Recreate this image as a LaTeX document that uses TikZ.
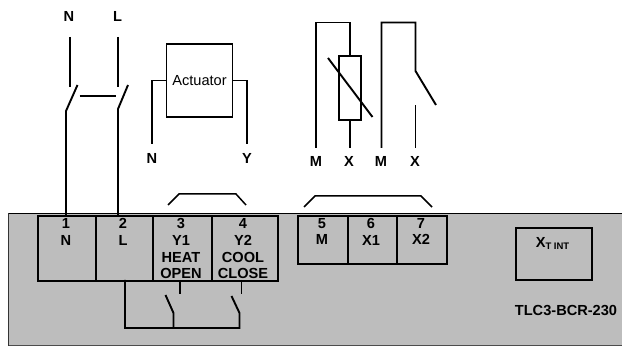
\documentclass[tikz,border=0pt]{standalone}
\usepackage{fontspec}
\setmainfont{Liberation Sans}
\definecolor{panelgray}{HTML}{BDBDBD}
\tikzset{
 wire/.style={line width=1.9pt,black,line join=miter},
 thin wire/.style={line width=1.5pt,black,line join=miter},
 lbl/.style={font=\fontsize{14.6}{16.7}\selectfont\bfseries,inner sep=0pt,align=center,text=black},
 term/.style={draw=black,line width=1.8pt,inner sep=0pt,anchor=north west},
 pt/.style={coordinate}
}
\begin{document}
\begin{tikzpicture}[x=1pt,y=-1pt]
\useasboundingbox (0,0) rectangle (622,347);
% panel
\fill[panelgray] (8.5,213.5) rectangle (622,346);
\draw[line width=1pt,black!70] (8.5,346) -- (622,346);
\draw[line width=1.4pt,black!80] (8.5,213.5) -- (8.5,346);
\draw[line width=1.7pt,black] (8.5,213.5) -- (622,213.5);
% terminals
\node[term,minimum width=58pt,minimum height=65pt] (b1) at (37,215) {};
\node[term,minimum width=57pt,minimum height=65pt] (b2) at (95,215) {};
\node[term,minimum width=59pt,minimum height=65pt] (b3) at (152,215) {};
\node[term,minimum width=66pt,minimum height=65pt] (b4) at (211,215) {};
\node[term,minimum width=50pt,minimum height=48pt] (b5) at (297,215) {};
\node[term,minimum width=49pt,minimum height=48pt] (b6) at (347,215) {};
\node[term,minimum width=50pt,minimum height=48pt] (b7) at (396,215) {};
\node[term,minimum width=76pt,minimum height=52pt] (bx) at (515,227) {};
% terminal text
\node[lbl,anchor=north] (t1) at (66,218.5) {1\\N};
\node[lbl,anchor=north] (t2) at (123,218.5) {2\\L};
\node[lbl,anchor=north] (t3) at (181,218.5) {3\\Y1\\HEAT\\OPEN};
\node[lbl,anchor=north] (t4) at (243,218.5) {4\\Y2\\COOL\\CLOSE};
\node[lbl,anchor=north] (t5) at (322,218) {5\\M};
\node[lbl,anchor=north] (t6) at (371,218) {6\\X1};
\node[lbl,anchor=north] (t7) at (421,218) {7\\X2};
\node[lbl] (tx) at (552.5,243.5) {X\raisebox{-2pt}{\fontsize{9.5}{9.5}\selectfont\bfseries T INT}};
\node[lbl] (tm) at (566,310) {TLC3-BCR-230};
% top labels
\node[lbl] (ln) at (69,16) {N};
\node[lbl] (ll) at (117.5,16) {L};
\node[lbl] (an) at (152,158) {N};
\node[lbl] (ay) at (247,158) {Y};
\node[lbl] (m1) at (316,161) {M};
\node[lbl] (x1) at (349,161) {X};
\node[lbl] (m2) at (381,161) {M};
\node[lbl] (x2) at (415,161) {X};
% mains switches
\coordinate (na) at (70,37); \coordinate (nb) at (70,87);
\coordinate (la) at (118,37); \coordinate (lb) at (118,87);
\coordinate (ns) at (77.5,85); \coordinate (nh) at (66,111);
\coordinate (ls) at (128,85); \coordinate (lh) at (118,109);
\coordinate (lk1) at (79.5,96); \coordinate (lk2) at (116,96);
\draw[wire] (na) -- (nb);
\draw[wire] (la) -- (lb);
\draw[wire] (ns) -- (nh) -- (nh |- b1.north);
\draw[wire] (ls) -- (lh) -- (lh |- b2.north);
\draw[thin wire] (lk1) -- (lk2);
% actuator
\node[draw=black,line width=1.9pt,minimum width=66pt,minimum height=73pt,inner sep=0pt,font=\fontsize{14.6}{16}\selectfont] (act) at (199.5,80.5) {Actuator};
\coordinate (ae1) at (152,144); \coordinate (ae2) at (247,144);
\draw[wire] (act.west) -- (act.west -| ae1) -- (ae1);
\draw[wire] (act.east) -- (act.east -| ae2) -- (ae2);
% thermistor
\node[draw=black,line width=1.9pt,minimum width=22pt,minimum height=64pt,inner sep=0pt] (rt) at (350,88) {};
\coordinate (r1) at (316,148); \coordinate (r2) at (316,22.5); \coordinate (r3) at (350,22.5); \coordinate (r4) at (350,148);
\draw[wire] (r1) -- (r2) -- (r3) -- (rt.north);
\draw[wire] (rt.south) -- (r4);
\coordinate (sl1) at (328,58); \coordinate (sl2) at (372.5,117);
\draw[wire] (sl1) -- (sl2);
% contact
\coordinate (c1) at (381.5,148); \coordinate (c2) at (381.5,22.5); \coordinate (c3) at (415.5,22.5); \coordinate (c4) at (415.5,71); \coordinate (c5) at (436,105);
\coordinate (c6) at (415.5,105.5); \coordinate (c7) at (415.5,148);
\draw[wire] (c1) -- (c2) -- (c3) -- (c4) -- (c5);
\draw[wire] (c6) -- (c7);
% jumpers
\coordinate (j1) at (168,205); \coordinate (j2) at (179,194); \coordinate (j3) at (236,194); \coordinate (j4) at (246,205);
\draw[thin wire] (j1) -- (j2) -- (j3) -- (j4);
\coordinate (k1) at (304,207); \coordinate (k2) at (315,196); \coordinate (k3) at (421,196); \coordinate (k4) at (432,207);
\draw[thin wire] (k1) -- (k2) -- (k3) -- (k4);
% relays
\coordinate (q0) at (125,280); \coordinate (q1) at (125,328); \coordinate (q2) at (173.5,328); \coordinate (q3) at (239.5,328);
\coordinate (q4) at (173.5,313); \coordinate (q5) at (165.5,295); \coordinate (q6) at (239.5,313); \coordinate (q7) at (231.5,296);
\coordinate (s1) at (180,280); \coordinate (s2) at (180,294); \coordinate (s3) at (241.5,280); \coordinate (s4) at (241.5,294);
\draw[wire] (q0) -- (q1) -- (q3) -- (q6) -- (q7);
\draw[wire] (q2) -- (q4) -- (q5);
\draw[wire] (s1) -- (s2);
\draw[wire] (s3) -- (s4);
\end{tikzpicture}
\end{document}
